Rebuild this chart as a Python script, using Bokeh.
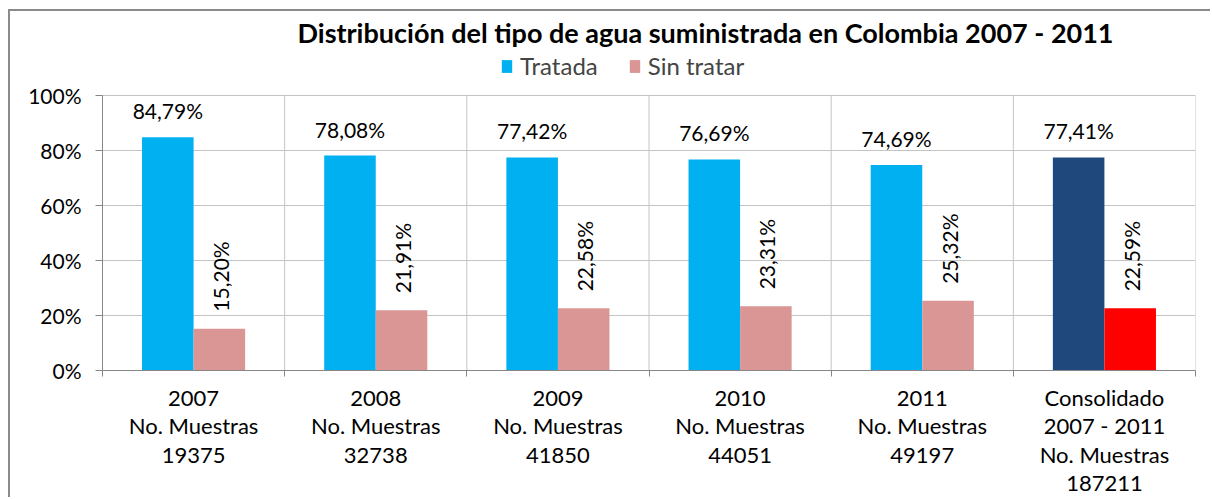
import numpy as np
from bokeh.plotting import figure
from bokeh.models import (Range1d, FixedTicker, PrintfTickFormatter, ColumnDataSource,
                          LabelSet, Label, Legend, LegendItem)
from bokeh.core.properties import value
from bokeh.embed import file_html
from bokeh.resources import INLINE

# ---- data ----
categories = ["2007", "2008", "2009", "2010", "2011", "Consolidado\n2007 - 2011"]
muestras = [19375, 32738, 41850, 44051, 49197, 187211]
tratada = [84.79, 78.08, 77.42, 76.69, 74.69, 77.41]
sin_tratar = [15.20, 21.91, 22.58, 23.31, 25.32, 22.59]
y_ticks = [0, 20, 40, 60, 80, 100]
series_names = ["Tratada", "Sin tratar"]
title_text = "Distribución del tipo de agua suministrada en Colombia 2007 - 2011"

# ---- styles ----
tratada_colors = ["#00B0F0"] * 5 + ["#1F497D"]
sin_colors = ["#D99694"] * 5 + ["#FF0000"]
FONT = "Lato"
AXIS_GRAY = "#868686"
GRID_GRAY = "#c4c4c4"

n = len(categories)
centers = np.arange(n) + 0.5
bounds_x = np.arange(n + 1)
bw = 0.283

# layout (pixels)
W, H = 1202, 488
FRAME_H = 360          # frame spans from canvas top to axis
PLOT_H = 276           # height of 0..100 %
y_end = 100.0 * FRAME_H / PLOT_H


def fmt(v):
    return f"{v:.2f}".replace(".", ",") + "%"


src_t = ColumnDataSource(dict(x=centers - bw / 2, top=tratada, color=tratada_colors,
                              label=[fmt(v) for v in tratada]))
src_s = ColumnDataSource(dict(x=centers + bw / 2, top=sin_tratar, color=sin_colors,
                              label=[fmt(v) for v in sin_tratar]))

p = figure(width=W, height=H, x_range=Range1d(0, n), y_range=Range1d(0, y_end),
           output_backend="svg", toolbar_location=None, title=None,
           min_border_left=92, min_border_right=17, min_border_top=0,
           min_border_bottom=H - FRAME_H)
p.styles = {"margin-left": "8px", "margin-top": "9px",
            "border-left": "2px solid #8a8a8a", "border-top": "2px solid #8a8a8a"}
p.outline_line_color = None

# vertical gridlines at category boundaries (only inside the plot area)
p.segment(x0=bounds_x, y0=0, x1=bounds_x, y1=100, line_color=GRID_GRAY, line_width=1)

r_t = p.vbar(x="x", top="top", width=bw, color="color", line_color=None, source=src_t)
r_s = p.vbar(x="x", top="top", width=bw, color="color", line_color=None, source=src_s)

# labels on bars
p.add_layout(LabelSet(x="x", y="top", text="label", source=src_t, text_align="center",
                      text_baseline="alphabetic", y_offset=18, text_font=value(FONT),
                      text_font_size="21px", text_color="#000000"))
p.add_layout(LabelSet(x="x", y="top", text="label", source=src_s, angle=np.pi / 2,
                      text_align="left", text_baseline="middle", y_offset=17, x_offset=1,
                      text_font=value(FONT), text_font_size="21px", text_color="#000000"))

# x axis
xa = p.xaxis[0]
xa.ticker = FixedTicker(ticks=list(centers), minor_ticks=list(bounds_x))
xa.major_label_overrides = {float(c): f"{cat}\nNo. Muestras\n{m}"
                            for c, cat, m in zip(centers, categories, muestras)}
xa.major_tick_out = 0
xa.major_tick_in = 0
xa.minor_tick_out = 6
xa.minor_tick_in = 0
xa.minor_tick_line_color = AXIS_GRAY
xa.axis_line_color = AXIS_GRAY
xa.major_label_text_font = FONT
xa.major_label_text_font_size = "22px"
xa.major_label_text_color = "#000000"
xa.major_label_standoff = 7
xa.major_label_text_line_height = 1.06

# y axis
ya = p.yaxis[0]
ya.ticker = FixedTicker(ticks=y_ticks)
ya.formatter = PrintfTickFormatter(format="%d%%")
ya.bounds = (0, 100)
ya.major_tick_out = 7
ya.major_tick_in = 0
ya.minor_tick_line_color = None
ya.major_tick_line_color = AXIS_GRAY
ya.axis_line_color = AXIS_GRAY
ya.major_label_text_font = FONT
ya.major_label_text_font_size = "21px"
ya.major_label_text_color = "#000000"
ya.major_label_standoff = 14

p.xgrid.grid_line_color = None
p.ygrid.ticker = FixedTicker(ticks=y_ticks)
p.ygrid.grid_line_color = GRID_GRAY

# title (inside the frame, above the plot area)
p.add_layout(Label(x=603, y=338, x_units="screen", y_units="screen", text=title_text,
                   text_align="center", text_baseline="middle", text_font=FONT,
                   text_font_style="bold", text_font_size="27px", text_color="#000000"))

# legend
legend = Legend(items=[LegendItem(label=series_names[0], renderers=[r_t], index=0),
                       LegendItem(label=series_names[1], renderers=[r_s], index=0)],
                orientation="horizontal", location=(398, 290),
                label_text_font=FONT, label_text_font_size="24px",
                glyph_width=13, glyph_height=16, label_standoff=7, spacing=30,
                padding=0, margin=0, border_line_color=None, background_fill_alpha=0)
p.add_layout(legend)

open("out.html", "w").write(file_html(p, INLINE))
